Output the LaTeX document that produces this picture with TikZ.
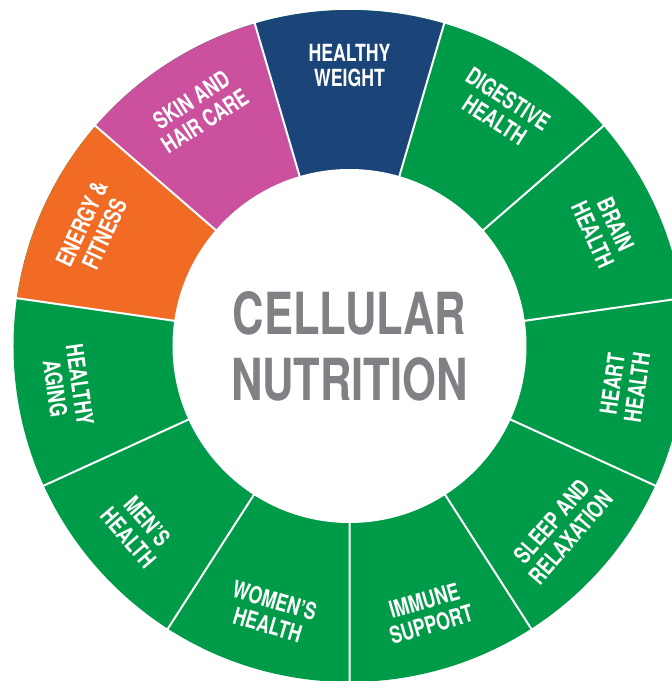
\documentclass[tikz,border=0pt]{standalone}
\usepackage{fontspec}
\newfontfamily\heroscn{TeX Gyre Heros}[FakeStretch=0.75]
\definecolor{wheelgreen}{HTML}{009B48}
\definecolor{wheelblue}{HTML}{1B4579}
\definecolor{wheelpink}{HTML}{CB509E}
\definecolor{wheelorange}{HTML}{F26B24}
\definecolor{wheelgray}{HTML}{808185}
\begin{document}
\begin{tikzpicture}[x=1pt,y=1pt,
  sep/.style={white,line width=2pt},
  lbl/.style={white,align=center,font=\heroscn\bfseries\fontsize{23.6}{25}\selectfont}]
  \useasboundingbox (-349.5,-335) rectangle (322.5,346);
  \fill[wheelgreen] (0,0) circle (336);
  \fill[wheelblue] (0,0) -- (73.64:336) arc[start angle=73.64,end angle=106.36,radius=336] -- cycle;
  \fill[wheelpink] (0,0) -- (106.36:336) arc[start angle=106.36,end angle=139.09,radius=336] -- cycle;
  \fill[wheelorange] (0,0) -- (139.09:336) arc[start angle=139.09,end angle=171.82,radius=336] -- cycle;
  \foreach \k in {0,...,10}
    \draw[sep] (0,0) to ({73.64+\k*32.7273}:338);
  \fill[white] (0,0) circle (177);
  \node (centre) at (0,0) [wheelgray,align=center,font=\heroscn\bfseries\fontsize{58}{66}\selectfont] {CELLULAR\\NUTRITION};
  \node (weight) at (90:280) [lbl] {HEALTHY\\WEIGHT};
  \node (skin) at (122.73:280) [lbl,rotate=32.73] {SKIN AND\\HAIR CARE};
  \node (energy) at (155.45:282) [lbl,rotate=65.45] {ENERGY \&\\FITNESS};
  \node (aging) at (188.18:285) [lbl,rotate=-81.82] {HEALTHY\\AGING};
  \node (mens) at (220.91:280) [lbl,rotate=-49.09] {MEN’S\\HEALTH};
  \node (womens) at (253.64:278) [lbl,rotate=-16.36] {WOMEN’S\\HEALTH};
  \node (immune) at (286.36:278) [lbl,rotate=16.36] {IMMUNE\\SUPPORT};
  \node (sleep) at (319.09:280) [lbl,rotate=49.09] {SLEEP AND\\RELAXATION};
  \node (heart) at (351.82:278) [lbl,rotate=81.82] {HEART\\HEALTH};
  \node (brain) at (24.55:280) [lbl,rotate=-65.45] {BRAIN\\HEALTH};
  \node (digestive) at (57.27:281) [lbl,rotate=-32.73] {DIGESTIVE\\HEALTH};
\end{tikzpicture}
\end{document}
